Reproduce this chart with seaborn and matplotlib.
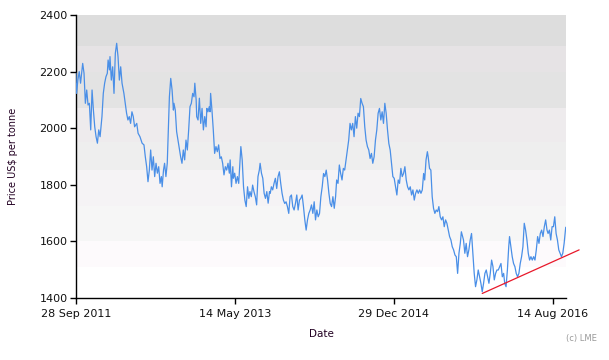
import numpy as np
import pandas as pd
import matplotlib
matplotlib.use("Agg")
import matplotlib.pyplot as plt
import matplotlib.dates as mdates
import seaborn as sns

# ---------------- data ----------------
start_date = "2011-09-28"
end_days = 1831  # right edge of the plotted period, days after start

days = [0, 2, 7, 12, 17, 25, 30, 35, 40, 45, 50, 55, 60, 65, 70, 75, 80, 85, 90, 97,
        102, 107, 112, 117, 120, 125, 127, 132, 137, 142, 147, 152, 157, 162, 167, 172, 179, 184, 189, 194,
        199, 204, 209, 214, 219, 227, 232, 239, 247, 254, 259, 264, 269, 274, 279, 284, 289, 294, 299, 304,
        309, 314, 319, 322, 327, 331, 336, 341, 349, 354, 359, 364, 366, 371, 376, 381, 386, 391, 396, 401,
        406, 411, 416, 421, 426, 431, 436, 441, 444, 449, 451, 456, 461, 466, 471, 476, 481, 486, 489, 493,
        498, 501, 503, 508, 513, 518, 523, 528, 533, 538, 543, 548, 553, 558, 563, 568, 573, 576, 581, 586,
        588, 593, 598, 603, 608, 613, 616, 621, 626, 631, 636, 641, 646, 650, 655, 660, 665, 670, 675, 680,
        685, 688, 693, 698, 703, 708, 713, 718, 723, 726, 730, 735, 740, 745, 750, 755, 760, 765, 770, 775,
        780, 785, 790, 795, 800, 805, 810, 815, 820, 825, 830, 835, 840, 845, 850, 855, 860, 865, 870, 875,
        880, 885, 890, 895, 900, 905, 910, 915, 920, 925, 930, 935, 940, 945, 950, 955, 960, 965, 970, 974,
        979, 984, 989, 994, 999, 1004, 1009, 1014, 1019, 1024, 1029, 1034, 1039, 1044, 1049, 1054, 1059, 1064, 1069, 1074,
        1079, 1084, 1089, 1094, 1099, 1104, 1109, 1114, 1119, 1124, 1129, 1134, 1139, 1144, 1149, 1154, 1159, 1164, 1169, 1174,
        1179, 1184, 1189, 1194, 1199, 1204, 1209, 1214, 1219, 1224, 1229, 1234, 1239, 1244, 1249, 1254, 1259, 1264, 1269, 1274,
        1279, 1284, 1289, 1294, 1299, 1303, 1308, 1313, 1316, 1321, 1326, 1331, 1336, 1341, 1346, 1351, 1356, 1361, 1366, 1371,
        1376, 1381, 1386, 1391, 1396, 1401, 1406, 1411, 1416, 1421, 1426, 1431, 1436, 1440, 1448, 1453, 1458, 1463, 1468, 1473,
        1478, 1483, 1488, 1493, 1498, 1503, 1508, 1513, 1518, 1523, 1528, 1533, 1538, 1543, 1548, 1553, 1558, 1563, 1568, 1573,
        1578, 1583, 1588, 1593, 1598, 1602, 1607, 1612, 1617, 1620, 1625, 1630, 1635, 1640, 1645, 1650, 1655, 1660, 1665, 1670,
        1675, 1680, 1685, 1690, 1695, 1700, 1705, 1710, 1715, 1720, 1725, 1730, 1735, 1740, 1745, 1750, 1755, 1760, 1764, 1769,
        1774, 1779, 1784, 1789, 1794, 1799, 1804, 1809, 1814, 1819, 1824, 1829, 1830]

prices = [2194, 2123, 2170, 2200, 2159, 2229, 2194, 2088, 2135, 2082, 2088, 1994, 2135, 2064, 2005, 1970, 1947, 1994, 1970, 2041,
          2123, 2159, 2182, 2194, 2241, 2206, 2253, 2170, 2217, 2123, 2265, 2300, 2253, 2170, 2217, 2159, 2123, 2088, 2053, 2029,
          2041, 2017, 2058, 2041, 2005, 2017, 1982, 1970, 1947, 1941, 1899, 1864, 1811, 1852, 1923, 1852, 1899, 1829, 1876, 1841,
          1864, 1805, 1829, 1793, 1852, 1876, 1829, 1876, 2111, 2176, 2135, 2064, 2088, 2064, 1988, 1958, 1929, 1899, 1876, 1923,
          1888, 1958, 1923, 1994, 2076, 2088, 2123, 2111, 2159, 2100, 2041, 2029, 2106, 2017, 2070, 1994, 2041, 2005, 2070, 2058,
          2076, 2058, 2123, 2064, 1994, 1911, 1935, 1917, 1941, 1893, 1899, 1876, 1835, 1864, 1852, 1876, 1841, 1888, 1793, 1864,
          1823, 1841, 1805, 1829, 1805, 1888, 1935, 1888, 1793, 1746, 1723, 1793, 1752, 1776, 1758, 1799, 1776, 1758, 1729, 1829,
          1852, 1876, 1841, 1823, 1770, 1752, 1776, 1735, 1776, 1770, 1793, 1782, 1805, 1823, 1787, 1829, 1846, 1805, 1770, 1746,
          1734, 1740, 1723, 1699, 1758, 1764, 1723, 1711, 1734, 1764, 1711, 1746, 1752, 1764, 1723, 1676, 1640, 1676, 1699, 1711,
          1729, 1699, 1740, 1676, 1711, 1687, 1699, 1758, 1793, 1840, 1829, 1852, 1817, 1770, 1734, 1723, 1758, 1717, 1758, 1817,
          1805, 1870, 1840, 1817, 1858, 1852, 1888, 1923, 1958, 2017, 1994, 2017, 1970, 2041, 2000, 2053, 2041, 2105, 2088, 2076,
          2005, 1958, 1935, 1923, 1893, 1911, 1876, 1899, 1958, 1994, 2053, 2070, 2029, 2058, 2017, 2088, 2053, 1994, 1946, 1923,
          1876, 1829, 1823, 1793, 1764, 1817, 1805, 1858, 1829, 1840, 1864, 1817, 1793, 1782, 1793, 1764, 1782, 1746, 1770, 1782,
          1770, 1782, 1770, 1782, 1840, 1817, 1888, 1917, 1899, 1858, 1852, 1758, 1717, 1699, 1711, 1705, 1723, 1687, 1676, 1687,
          1652, 1676, 1664, 1640, 1617, 1605, 1581, 1570, 1552, 1546, 1487, 1558, 1593, 1634, 1605, 1558, 1593, 1546, 1570, 1605,
          1628, 1558, 1487, 1440, 1464, 1499, 1475, 1452, 1422, 1452, 1487, 1499, 1475, 1452, 1487, 1534, 1511, 1464, 1487, 1499,
          1499, 1511, 1522, 1475, 1487, 1452, 1440, 1499, 1581, 1617, 1581, 1546, 1522, 1511, 1487, 1475, 1487, 1522, 1546, 1581,
          1664, 1640, 1605, 1558, 1534, 1546, 1534, 1546, 1534, 1570, 1617, 1593, 1628, 1640, 1617, 1652, 1676, 1640, 1628, 1640,
          1605, 1652, 1652, 1687, 1628, 1605, 1570, 1558, 1546, 1558, 1593, 1640, 1650]

# support (trend) line: days after start and price
trend_days = [1518, 1880]
trend_prices = [1416, 1570]

# background bands (price levels, bottom -> top) and their shades
band_edges = [1400, 1510, 1600, 1725, 1852, 1952, 2072, 2200, 2291, 2400]
band_colors = ["#ffffff", "#fdfafc", "#f6f6f6", "#f5f3f5", "#eeeeee",
               "#eeebed", "#e3e3e3", "#e6e3e5", "#dddddd"]

y_ticks = [1400, 1600, 1800, 2000, 2200, 2400]
x_tick_dates = ["2011-09-28", "2013-05-14", "2014-12-29", "2016-08-14"]

# ---------------- build ----------------
t0 = pd.Timestamp(start_date)
df = pd.DataFrame({"Date": t0 + pd.to_timedelta(days, unit="D"), "Price": prices})
trend = pd.DataFrame({"Date": t0 + pd.to_timedelta(trend_days, unit="D"), "Price": trend_prices})

sns.set_style("white")
plt.rcParams["font.family"] = ["DejaVu Sans"]

fig = plt.figure(figsize=(6.09, 3.60), dpi=100)
ax = fig.add_axes([76 / 609, 1 - 298 / 360, 490 / 609, 283 / 360])

for lo, hi, c in zip(band_edges[:-1], band_edges[1:], band_colors):
    ax.axhspan(lo, hi, color=c, lw=0, zorder=0)

sns.lineplot(data=df, x="Date", y="Price", ax=ax, color="#4a8fe7", linewidth=0.9, zorder=3)
ax.plot(trend["Date"], trend["Price"], color="#e8182a", linewidth=0.9, zorder=4, clip_on=False)

ax.set_xlim(t0, t0 + pd.Timedelta(days=end_days))
ax.set_ylim(1400, 2400)
ax.set_yticks(y_ticks)
ax.set_xticks(pd.to_datetime(x_tick_dates))
ax.xaxis.set_major_formatter(mdates.DateFormatter("%d %b %Y"))

for s in ["top", "right"]:
    ax.spines[s].set_visible(False)
for s in ["left", "bottom"]:
    ax.spines[s].set_color("black")
    ax.spines[s].set_linewidth(1.0)

ax.tick_params(axis="both", which="major", direction="out", length=4, width=1,
               color="black", labelsize=8, labelcolor="#111111", pad=2,
               left=True, bottom=True)
ax.tick_params(axis="x", pad=4)

ax.set_xlabel("Date", fontsize=7.5, color="#220022")
ax.set_ylabel(r"Price US\$ per tonne", fontsize=7, color="#220022")
ax.xaxis.set_label_coords(0.5, -0.11)
ax.yaxis.set_label_coords(-0.118, 0.5)
ax.grid(False)

fig.text(597 / 609, 1 - 339 / 360, "(c) LME", ha="right", va="center",
         fontsize=6, color="#999999")

fig.savefig("out.png", dpi=100)
